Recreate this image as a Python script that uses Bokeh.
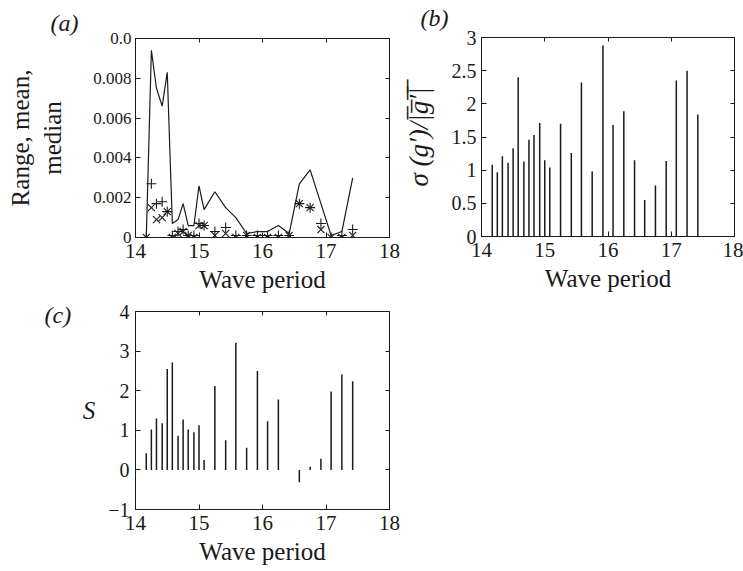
from bokeh.plotting import figure
from bokeh.layouts import row, column
from bokeh.models import FixedTicker, LinearAxis, Label, ColumnDataSource
from bokeh.embed import file_html
from bokeh.resources import INLINE

# ---------------- data ----------------
periods = [14.17, 14.25, 14.33, 14.42, 14.50, 14.58, 14.67, 14.75, 14.83, 14.92,
           15.00, 15.08, 15.25, 15.42, 15.58, 15.75, 15.92, 16.08, 16.25, 16.42,
           16.58, 16.75, 16.92, 17.08, 17.25, 17.42]

range_vals = [0.0, 0.0094, 0.0075, 0.0066, 0.0083, 0.0007, 0.0009, 0.0017, 0.0006, 0.0006,
              0.0026, 0.0014, 0.0023, 0.0015, 0.0010, 0.0002, 0.0003, 0.0003, 0.0006, 0.0002,
              0.0027, 0.0034, 0.0017, 0.0001, 0.0003, 0.0030]
mean_vals = [0.0, 0.0027, 0.0017, 0.0018, 0.0013, 0.0001, 0.0003, 0.0004, 0.0001, 0.0001,
             0.0007, 0.0006, 0.0003, 0.0005, 0.0001, 0.0001, 0.0001, 0.0001, 0.0001, 0.0001,
             0.0017, 0.0015, 0.0007, 0.0000, 0.0001, 0.0004]
median_vals = [0.0, 0.0015, 0.0009, 0.0010, 0.0013, 0.0000, 0.0002, 0.0003, 0.0001, 0.0000,
               0.0006, 0.0006, 0.0001, 0.0002, 0.0000, 0.0001, 0.0000, 0.0000, 0.0000, 0.0001,
               0.0017, 0.0015, 0.0004, 0.0000, 0.0000, 0.0001]
sigma_ratio = [1.08, 0.97, 1.21, 1.11, 1.33, 2.40, 1.13, 1.46, 1.53, 1.71,
               1.15, 1.04, 1.70, 1.26, 2.32, 0.98, 2.88, 1.68, 1.89, 1.15,
               0.55, 0.77, 1.14, 2.35, 2.50, 1.84]
s_vals = [0.42, 1.02, 1.30, 1.18, 2.55, 2.71, 0.86, 1.27, 1.02, 0.95,
          1.13, 0.25, 2.12, 0.75, 3.21, 0.56, 2.50, 1.23, 1.78, 0.0,
          -0.31, 0.08, 0.28, 1.98, 2.41, 2.24]

x_ticks = [14, 15, 16, 17, 18]
a_yticks = [0, 0.002, 0.004, 0.006, 0.008, 0.01]
a_ylabels = ["0", "0.002", "0.004", "0.006", "0.008", "0.0"]
b_yticks = [0, 0.5, 1, 1.5, 2, 2.5, 3]
b_ylabels = ["0", "0.5", "1", "1.5", "2", "2.5", "3"]
c_yticks = [-1, 0, 1, 2, 3, 4]
c_ylabels = ["\u22121", "0", "1", "2", "3", "4"]

FONT = "Liberation Serif"
INK = "#1a1a1a"

src = ColumnDataSource(dict(period=periods, base=[0.0] * len(periods),
                            rng=range_vals, mean=mean_vals, median=median_vals,
                            sigma=sigma_ratio, s=s_vals))


def make_fig(yr, fw, fh, l, r, t, b):
    p = figure(frame_width=fw, frame_height=fh, x_range=(14, 18), y_range=yr,
               output_backend="svg", toolbar_location=None,
               min_border_left=l, min_border_right=r, min_border_top=t, min_border_bottom=b)
    p.grid.visible = False
    p.outline_line_color = INK
    p.outline_line_width = 1
    p.outline_line_alpha = 1
    p.background_fill_color = "white"
    p.border_fill_color = "white"
    return p


def style_axes(p, yticks, ylabels, ysize, ylabel, ylab_stand, ytick_stand):
    xa = p.xaxis[0]
    xa.ticker = FixedTicker(ticks=x_ticks)
    xa.axis_label = "Wave period"
    xa.axis_label_text_font = FONT
    xa.axis_label_text_font_size = "25px"
    xa.axis_label_text_font_style = "normal"
    xa.axis_label_text_color = INK
    xa.axis_label_standoff = 5
    xa.major_label_text_font = FONT
    xa.major_label_text_font_size = "21px"
    xa.major_label_text_color = INK
    xa.major_label_standoff = 6
    ya = p.yaxis[0]
    ya.ticker = FixedTicker(ticks=yticks)
    ya.major_label_overrides = {t: s for t, s in zip(yticks, ylabels)}
    ya.axis_label = ylabel
    ya.axis_label_text_font = FONT
    ya.axis_label_text_font_size = "25px"
    ya.axis_label_text_font_style = "normal"
    ya.axis_label_text_color = INK
    ya.axis_label_standoff = ylab_stand
    ya.major_label_text_font = FONT
    ya.major_label_text_font_size = ysize
    ya.major_label_text_color = INK
    ya.major_label_standoff = ytick_stand
    for ax in (xa, ya):
        ax.major_tick_in = 5
        ax.major_tick_out = 0
        ax.minor_tick_line_color = None
        ax.axis_line_color = INK
        ax.major_tick_line_color = INK
    # mirrored ticks on the top and right sides (no labels)
    top = LinearAxis(ticker=FixedTicker(ticks=x_ticks), major_label_text_font_size="1px",
                     major_label_text_color=None,
                     major_tick_in=4, major_tick_out=0, minor_tick_line_color=None,
                     axis_line_color=None, major_tick_line_color=INK, major_label_standoff=0)
    right = LinearAxis(ticker=FixedTicker(ticks=yticks), major_label_text_font_size="1px",
                       major_label_text_color=None,
                       major_tick_in=4, major_tick_out=0, minor_tick_line_color=None,
                       axis_line_color=None, major_tick_line_color=INK, major_label_standoff=0)
    p.add_layout(top, "above")
    p.add_layout(right, "right")


def panel_tag(p, sx, sy, letter, side):
    # placed in a side panel so that it is not clipped to the frame
    p.add_layout(Label(x=sx, y=sy, x_units="screen", y_units="screen", text="(%s)" % letter,
                       text_font=FONT, text_font_size="24px", text_font_style="italic",
                       text_color=INK, text_align="left", text_baseline="middle"), side)


# ---------------- panel (a) ----------------
pa = make_fig((0, 0.01), 254, 199, 135, 11, 38, 64)
pa.line("period", "rng", source=src, line_color=INK, line_width=1.2)
pa.scatter("period", "mean", source=src, marker="cross", size=10, line_color=INK, line_width=1.1)
pa.scatter("period", "median", source=src, marker="x", size=10, line_color=INK, line_width=1.1)
style_axes(pa, a_yticks, a_ylabels, "17px", "Range, mean,\nmedian", 24, 4)
panel_tag(pa, -85, 16, "a", "above")

# ---------------- panel (b) ----------------
pb = make_fig((0, 3), 253, 199, 81, 9, 37, 64)
pb.segment(x0="period", y0="base", x1="period", y1="sigma", source=src,
           line_color=INK, line_width=1.5)
style_axes(pb, b_yticks, b_ylabels, "20px",
           "\u03c3 (g\u2032)/|\u0305g\u0305\u2032\u0305|\u0305", 15, 5)
pb.yaxis[0].axis_label_text_font_style = "italic"
pb.yaxis[0].axis_label_text_font_size = "27px"
panel_tag(pb, -61, 20, "b", "above")

# ---------------- panel (c) ----------------
pc = make_fig((-1, 4), 254, 198, 135, 11, 10, 62)
pc.segment(x0="period", y0="base", x1="period", y1="s", source=src,
           line_color=INK, line_width=1.5)
style_axes(pc, c_yticks, c_ylabels, "20px", "S", 10, 6)
pc.yaxis[0].axis_label_text_font_style = "italic"
pc.yaxis[0].axis_label_orientation = "horizontal"
panel_tag(pc, -8, 195, "c", "left")

layout = row(column(pa, pc), pb)
open("out.html", "w").write(file_html(layout, INLINE))
